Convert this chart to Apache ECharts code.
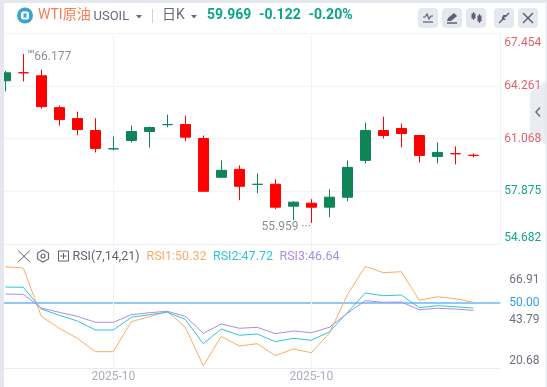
<!DOCTYPE html>
<html><head><meta charset="utf-8">
<style>html,body{margin:0;padding:0;background:#fff}#c{width:547px;height:387px}</style>
<script src="https://cdn.jsdelivr.net/npm/echarts@6/dist/echarts.min.js"></script>
</head><body><div id="c"></div>
<script>
// [open, close, low, high]
const candles = [
 [64.562,65.044,63.918,65.165],[65.050,65.044,64.520,66.177],[64.863,62.996,62.875,65.225],
 [62.936,62.213,61.851,63.056],[62.273,61.610,61.267,62.695],[61.550,60.466,60.225,62.291],
 [60.440,60.448,60.345,61.189],[60.948,61.490,60.827,61.851],[61.490,61.731,60.526,61.791],
 [61.905,61.912,61.749,62.514],[61.912,61.147,60.906,62.454],[61.068,57.875,57.875,61.249],
 [58.719,59.141,58.719,59.743],[59.201,58.177,57.333,59.442],[58.290,58.297,57.755,58.960],
 [58.297,56.912,56.791,58.598],[56.972,57.213,56.128,57.273],[57.153,56.912,55.959,57.394],
 [56.912,57.514,56.309,58.000],[57.514,59.321,57.273,59.743],[59.743,61.550,59.562,62.032],
 [61.550,61.249,61.068,62.394],[61.671,61.369,60.526,61.972],[61.249,60.044,59.622,61.249],
 [59.984,60.225,59.562,60.827],[60.150,60.146,59.502,60.586],[60.050,60.044,59.924,60.165]
];
const rsi1 = [66.5,65.9,43.95,38.5,33.95,27.86,27.86,41.5,43.77,46.23,38.95,21.5,34.86,30.45,31.5,26.05,29.1,27.4,36.2,53.64,66.68,63.77,64.23,51.23,52.86,51.95,50.32];
const rsi2 = [57.27,57.14,47.27,44.41,41.82,37.73,37.73,43.5,44.68,45.77,42.59,31.5,38.18,35.32,35.91,32.41,33.95,33.05,36.82,45.59,54.55,53.32,53.64,47.86,48.77,48.32,47.72];
const rsi3 = [54.09,53.95,47.73,45.77,43.95,41.23,41.23,44.68,45.59,46.23,43.95,36.23,40.45,38.5,38.95,36.05,37.27,36.5,38.95,45.32,51.05,50.32,50.45,46.95,47.59,47.27,46.64];
const dateTickIndex = [6,17];
const dateTickLabel = '2025-10';
const extremes = [[1,66.177],[17,55.959]];
const priceTicks = [54.682,57.875,61.068,64.261,67.454];
const rsiTicks = [20.68,43.79,66.91];
const rsiRef = [50];

const F = 'Roboto, "Noto Sans CJK SC", sans-serif';
const ORANGE='#fbab66', CYAN='#2fc6da', PURPLE='#ab8de8', GREEN='#0f8458', RED='#ff0000';
const ICON='#5c6070', BTN='#e6e8ef';
const t=(text,x,y,fill,size,extra)=>({type:'text',z:100,style:Object.assign({text,x,y,fill,font:(size||14)+'px '+F,textVerticalAlign:'middle'},extra||{})});
const ln=(x1,y1,x2,y2,c,w)=>({type:'line',z:100,shape:{x1,y1,x2,y2},style:{stroke:c||ICON,lineWidth:w||1.5}});
const rect=(x,y,w,h,c,r,z)=>({type:'rect',z:z||99,shape:{x,y,width:w,height:h,r:r||0},style:{fill:c}});
const poly=(pts,c)=>({type:'polygon',z:100,shape:{points:pts},style:{fill:c||ICON}});
const pl=(pts,c,w)=>({type:'polyline',z:100,shape:{points:pts},style:{stroke:c||ICON,lineWidth:w||1.2,fill:'none'}});

const graphics=[
 rect(0,0,547,3,'#e4e8ee'),rect(0,0,4,387,'#e4e8ee'),rect(546,0,1,387,'#e4e8ee'),
 {type:'circle',z:100,shape:{cx:25,cy:15.5,r:8},style:{fill:'#3aa6cb'}},
 rect(21,11.5,8,8,'#fff',2,100),rect(23.5,13.5,3,4,'#3aa6cb',0,101),
 t('WTI原油',38,15,'#fa7c56',14),
 t('USOIL',93.5,17,'#666b7a',13),
 poly([[136,15],[142,15],[139,18.5]],'#666b7a'),
 ln(152.5,9,152.5,23,'#cfd2da',1),
 t('日K',162,15,'#666b7a',14),
 poly([[191,15],[197,15],[194,18.5]],'#666b7a'),
 t('59.969',207,15,'#0aa587',14,{font:'bold 14px '+F}),
 t('-0.122',259,15,'#0aa587',14,{font:'bold 14px '+F}),
 t('-0.20%',308.5,15,'#0aa587',14,{font:'bold 14px '+F}),
 rect(418,8,20,20,BTN,4,99),rect(442,8,20,20,BTN,4,99),rect(466,8,20,20,BTN,4,99),rect(494,8,20,20,BTN,4,99),rect(518,8,20,20,BTN,4,99),
 pl([[423,17],[425,17],[427,14],[429,19],[431,16],[433,16]]),ln(423,22,433,22,ICON,1.2),
 poly([[447,21],[448,18],[454,13],[457,16],[451,21]]),ln(447,23,457,23,ICON,1.5),
 ln(473.5,12,473.5,20,ICON,1),rect(471.5,13.5,4,5,ICON,0,100),ln(479.5,14,479.5,23,ICON,1),rect(477.5,15.5,4,6,ICON,0,100),
 ln(499,23,503,19),poly([[502,16],[502,20],[506,20]]),ln(509,13,505,17),poly([[503,15],[507,15],[503,19]]),
 ln(523,13,533,23),ln(533,13,523,23),
 {type:'polygon',z:-1,shape:{points:[[546,80],[530,93],[530,132],[546,145]]},style:{fill:'#ebecf1'}},
 pl([[540,107.5],[536,112],[540,116.5]],'#6b7080',1.5),
 ln(18,250.5,30,262,'#5f6370',1),ln(30,250.5,18,262,'#5f6370',1),
 {type:'polygon',z:100,shape:{points:[[43,250],[48.5,253],[48.5,259],[43,262],[37.5,259],[37.5,253]]},style:{stroke:'#6a6e7c',fill:'none',lineWidth:1.2}},
 {type:'circle',z:100,shape:{cx:43,cy:256,r:2},style:{stroke:'#6a6e7c',fill:'none',lineWidth:1.2}},
 {type:'rect',z:100,shape:{x:58.5,y:251,width:10,height:10},style:{stroke:'#5f6370',fill:'none',lineWidth:1}},
 ln(60.5,256,66.5,256,'#5f6370',1),ln(63.5,253,63.5,259,'#5f6370',1),
 t('RSI(7,14,21)',72.5,256.5,'#5f6370',12.5),
 t('RSI1:'+rsi1[rsi1.length-1].toFixed(2),146.5,256.5,ORANGE,12.5),
 t('RSI2:'+rsi2[rsi2.length-1].toFixed(2),213,256.5,CYAN,12.5),
 t('RSI3:'+rsi3[rsi3.length-1].toFixed(2),279.5,256.5,PURPLE,12.5)
];

// x scale: one slot is 18px; the first candle is cut by the frame
const X_MIN=-0.2944, X_MAX=27.5;
const xBase={type:'value',min:X_MIN,max:X_MAX,axisTick:{show:false,customValues:dateTickIndex},
  splitLine:{show:true,lineStyle:{color:'#f1f3f7'}}};
const rsiSeries=(name,data,color)=>({name,type:'line',xAxisIndex:1,yAxisIndex:1,data:data.map((v,i)=>[i,v]),symbol:'none',smooth:false,z:5,lineStyle:{color,width:1},silent:true});
const option={
 animation:false,backgroundColor:'#fff',
 textStyle:{fontFamily:F},
 grid:[
  {left:0,width:500.3,top:33,height:211},
  {left:0,width:500.3,top:244,height:124}
 ],
 xAxis:[
  Object.assign({},xBase,{gridIndex:0,axisLabel:{show:false},axisLine:{show:true,onZero:false,lineStyle:{color:'#eef0f4'}}}),
  Object.assign({},xBase,{gridIndex:1,axisLine:{show:true,onZero:false,lineStyle:{color:'#e9ebf0'}},
   axisLabel:{customValues:dateTickIndex,formatter:()=>dateTickLabel,color:'#a9adb9',fontSize:12,margin:3,fontFamily:F,hideOverlap:false}})
 ],
 yAxis:[
  {type:'value',gridIndex:0,position:'right',min:54.682,max:67.454,
   axisLine:{show:true,onZero:false,lineStyle:{color:'#eef0f4'}},axisTick:{show:false,customValues:priceTicks},
   splitLine:{show:true,lineStyle:{color:'#f1f3f7'}},
   axisLabel:{customValues:priceTicks,margin:4,fontSize:12,fontFamily:F,padding:[4,0,0,0],
     verticalAlignMinLabel:'bottom',verticalAlignMaxLabel:'top',
     formatter:(v)=>v.toFixed(3),
     color:(v)=>v>=60?'#e4606d':'#10a78a'}},
  {type:'value',gridIndex:1,position:'right',min:20.45,max:76.82,
   axisLine:{show:false},
   axisTick:{show:true,length:8,customValues:rsiRef,lineStyle:{color:'#90c8f8',width:2}},
   splitLine:{show:true,lineStyle:{color:'#90c8f8',width:2}},
   axisLabel:{customValues:rsiRef,margin:9,fontSize:12,fontFamily:F,color:'#2f9bf5',formatter:(v)=>v.toFixed(2)}},
  {type:'value',gridIndex:1,position:'right',min:16.5,max:87.7,
   axisLine:{show:false},axisTick:{show:false,customValues:rsiTicks},splitLine:{show:false},
   axisLabel:{customValues:rsiTicks,margin:9,fontSize:12,fontFamily:F,color:'#6d7180',formatter:(v)=>v.toFixed(2)}}
 ],
 series:[
  {name:'USOIL',type:'candlestick',xAxisIndex:0,yAxisIndex:0,data:candles.map((c,i)=>[i].concat(c)),
   encode:{x:0,y:[1,2,3,4]},barWidth:11,silent:true,
   itemStyle:{color:GREEN,color0:RED,borderColor:GREEN,borderColor0:RED,borderWidth:1}},
  {name:'extremes',type:'scatter',xAxisIndex:0,yAxisIndex:0,symbolSize:1,itemStyle:{color:'transparent'},silent:true,z:6,
   data:[
    {value:extremes[0],label:{show:true,position:'right',distance:0,offset:[4,3],formatter:(p)=>"''''"+p.value[1].toFixed(3),color:'#6f7382',fontSize:12,fontFamily:F}},
    {value:extremes[1],label:{show:true,position:'left',distance:0,offset:[0,4],formatter:(p)=>p.value[1].toFixed(3)+' ···',color:'#6f7382',fontSize:12,fontFamily:F}}
   ]},
  rsiSeries('RSI1',rsi1,ORANGE),rsiSeries('RSI2',rsi2,CYAN),rsiSeries('RSI3',rsi3,PURPLE)
 ],
 graphic:graphics
};
const chart=echarts.init(document.getElementById('c'),null,{renderer:'canvas'});
chart.setOption(option);
</script></body></html>
